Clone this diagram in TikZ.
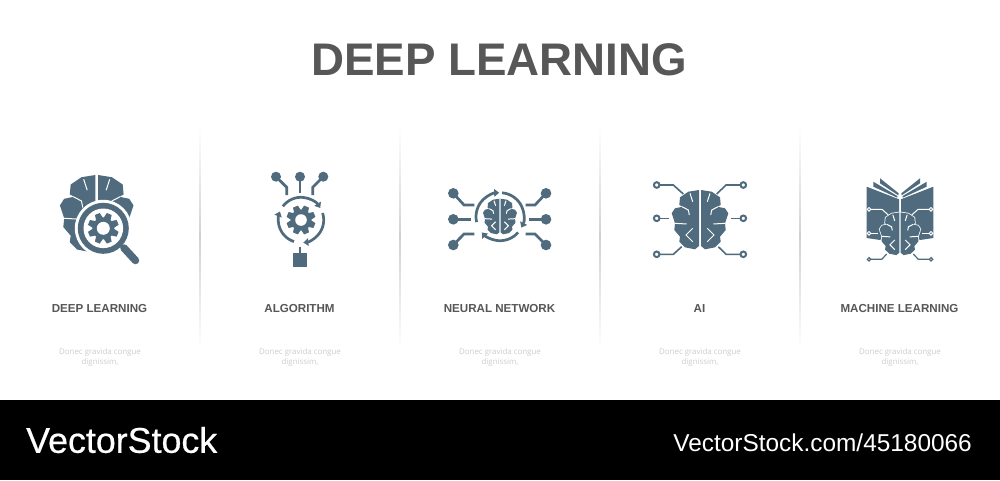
\documentclass[tikz,border=0pt]{standalone}
\usepackage{fontspec}
\setmainfont{Liberation Sans}
\newfontfamily\capfont{Open Sans}
\newfontfamily\brandfont[FakeBold=0.5]{Liberation Sans}
\usetikzlibrary{calc,arrows.meta}

\definecolor{iconblue}{HTML}{4F6B7D}
\definecolor{titlegray}{HTML}{575757}
\definecolor{capgray}{HTML}{CDCDCD}

\tikzset{
  iconfill/.style={fill=iconblue},
  wire/.style={draw=iconblue,line width=2.7pt},
  thinwire/.style={draw=iconblue,line width=1.6pt},
  flowline/.style={draw=iconblue,line width=2.7pt,-{Triangle[length=5pt,width=7.5pt]}},
  cutline/.style={draw=white,line width=1pt},
  sublabel/.style={text=titlegray,font=\bfseries\fontsize{11.6}{13}\selectfont,align=center,anchor=base},
  caplabel/.style={text=capgray,font=\capfont\fontsize{7.9}{10}\selectfont,align=center},
}

% one half of the brain, centred on (0,0)
\newcommand{\brainhalf}{(-1,-30) -- (-11.7,-28.3) -- (-20,-22.7) -- (-20.7,-15) -- (-17.3,-13.3) -- (-25,-11.7) -- (-28.3,-6.7) -- (-25,3.3) -- (-25.7,10) -- (-20,16.7) -- (-20.7,21.7) -- (-15,27.3) -- (-5,29.3) -- (-1,26) -- cycle}

% x, y, scale
\newcommand{\brainicon}[3]{
  \begin{scope}[shift={(#1,#2)},scale=#3]
    \foreach \s in {1,-1} {
      \begin{scope}[xscale=\s]
        \fill[iconfill] \brainhalf;
        \draw[cutline] (-10,-26.7) -- (-7.3,-18.3);
        \draw[cutline] (-18,-13.3) -- (-11.7,-10) -- (-10.7,-5);
        \draw[cutline] (-25,3.3) -- (-13.3,4);
        \draw[cutline] (-7.3,8.3) -- (-14,15) -- (-7.3,21.7);
      \end{scope}
    }
  \end{scope}
}

% x, y, outer radius, body radius, hole radius
\newcommand{\gearicon}[5]{
  \begin{scope}[shift={(#1,#2)}]
    \foreach \a in {0,45,...,315} {
      \fill[iconfill,rotate=\a+22.5] (-3.6,-#4+1) -- (-2.6,-#3) -- (2.6,-#3) -- (3.6,-#4+1) -- cycle;
    }
    \fill[iconfill] (0,0) circle[radius=#4];
    \fill[white] (0,0) circle[radius=#5];
  \end{scope}
}

% x, y, radius, start angle, end angle
\newcommand{\flowarc}[5]{
  \draw[flowline] ($(#1,#2)+(#4:#3)$) arc[start angle=#4, end angle=#5, radius=#3];
}

\begin{document}
\begin{tikzpicture}[x=1pt,y=-1pt]

\useasboundingbox (0,0) rectangle (1000,480);
\fill[white] (0,0) rectangle (1000,480);

% Footer band
\fill[black] (0,400) rectangle (1000,480);
\node[text=white,font=\brandfont\fontsize{35.8}{38}\selectfont,anchor=west,inner sep=0pt] (brand) at (26,440) {VectorStock};
\node[text=white,font=\fontsize{24.4}{26}\selectfont,anchor=east,inner sep=0pt] (imageid) at (972,443) {VectorStock.com/45180066};

% Title
\node[text=titlegray,font=\bfseries\fontsize{45.7}{50}\selectfont,inner sep=0pt] (title) at (499,60) {DEEP LEARNING};

% Separators
\foreach \x in {200,400,600,800} {
  \shade[top color=white,bottom color=white,middle color=black!18] (\x-0.8,125) rectangle (\x+0.8,350);
}

% Labels
\foreach \x/\n/\t in {100/deep/DEEP LEARNING,300/algo/ALGORITHM,500/neural/NEURAL NETWORK,700/ai/AI,900/machine/MACHINE LEARNING} {
  \node[sublabel] (label-\n) at (\x-0.5,312) {\t};
  \node[caplabel] (note-\n) at (\x,357) {Donec gravida congue\\dignissim,};
}

% Deep learning: brain under a lens
\brainicon{96.7}{214}{1.3}
\coordinate (lens) at (103.3,228.3);
\fill[white] (lens) circle[radius=28.5];
\draw[iconblue,line width=3pt] ($(lens)+(16,17)$) -- (123,247);
\draw[iconblue,line width=7.5pt,line cap=round] (124,248) -- (135.5,260.5);
\fill[iconfill] (lens) circle[radius=25.5];
\fill[white] (lens) circle[radius=19.8];
\gearicon{103.3}{228.3}{15.5}{11}{6.5}

% Algorithm
\gearicon{301}{220}{14.5}{10.5}{5.8}
\flowarc{301}{220}{22.7}{217}{328}
\flowarc{301}{220}{22.7}{342}{444}
\flowarc{301}{220}{22.7}{108}{202}
\foreach \x in {276,300,323.3} {
  \fill[iconfill] (\x,176.7) circle[radius=5];
}
\draw[wire] (276,176.7) -- (286.7,187.3) -- (286.7,195);
\draw[wire] (300,176.7) -- (300,192.7);
\draw[wire] (323.3,176.7) -- (312.7,187.3) -- (312.7,195);
\draw[wire] (300,246.7) -- (300,254);
\fill[iconfill] (292.7,253.3) rectangle (307.3,267.3);

% Neural network
\brainicon{500}{216.7}{0.6}
\flowarc{500}{216.7}{24}{167}{268}
\flowarc{500}{216.7}{24}{275}{387}
\flowarc{500}{216.7}{24}{41}{139}
\foreach \x in {453.3,546} {
  \foreach \y in {193.3,219.3,245} {
    \fill[iconfill] (\x,\y) circle[radius=5.3];
  }
}
\draw[wire] (453.3,193.3) -- (464,205) -- (474.3,205);
\draw[wire] (453.3,219.3) -- (470.7,219.3);
\draw[wire] (453.3,245) -- (464,234) -- (474.3,234);
\draw[wire] (546,193.3) -- (535,205) -- (525.7,205);
\draw[wire] (546,219.3) -- (529.3,219.3);
\draw[wire] (546,245) -- (535,234) -- (525.7,234);

% AI
\brainicon{700}{220}{1}
\foreach \x in {656.7,743.3} {
  \foreach \y in {185,218.3,254.3} {
    \draw[thinwire,line width=2pt] (\x,\y) circle[radius=2.8];
  }
}
\draw[thinwire] (660,185) -- (673.3,185) -- (683.3,194);
\draw[thinwire] (660,218.3) -- (669.3,218.3);
\draw[thinwire] (660,254.3) -- (673.3,254.3) -- (681.7,246.7);
\draw[thinwire] (740,185) -- (726,185) -- (716.7,194);
\draw[thinwire] (740,218.3) -- (730.7,218.3);
\draw[thinwire] (740,254.3) -- (726,254.3) -- (718.3,246.7);

% Machine learning: open book and brain
\foreach \s in {1,-1} {
  \begin{scope}[shift={(900,0)},xscale=\s]
    \fill[iconfill] (-33.3,186.7) -- (-1,199.3) -- (-1,226) -- (-20,240) -- (-33.3,238) -- cycle;
    \fill[iconfill] (-26.7,181.7) -- (-2.7,196) -- (-2.7,197.7) -- (-26.7,186.7) -- cycle;
    \fill[iconfill] (-20,178.3) -- (-1.3,193.3) -- (-1.7,195.3) -- (-20,183.3) -- cycle;
    \draw[cutline] (-31,209.3) -- (-18,209.3) -- (-11.7,215);
    \draw[cutline] (-31,233.3) -- (-21.7,233.3);
    \fill[iconfill] (-31,209.3) circle[radius=1.5];
    \fill[iconfill] (-31,233.3) circle[radius=1.5];
    \draw[cutline] (-31,209.3) circle[radius=1.8];
    \draw[cutline] (-31,233.3) circle[radius=1.8];
    \draw[thinwire,line width=1.2pt] (-29,259.3) -- (-18.3,259.3) -- (-13.3,254);
    \draw[thinwire,line width=1.2pt] (-31,259.3) circle[radius=1.7];
  \end{scope}
}
\begin{scope}[shift={(900,234)},scale=0.72]
  \foreach \s in {1,-1} {
    \begin{scope}[xscale=\s]
      \draw[white,line width=1.5pt] \brainhalf;
    \end{scope}
  }
\end{scope}
\brainicon{900}{234}{0.72}

\end{tikzpicture}
\end{document}
